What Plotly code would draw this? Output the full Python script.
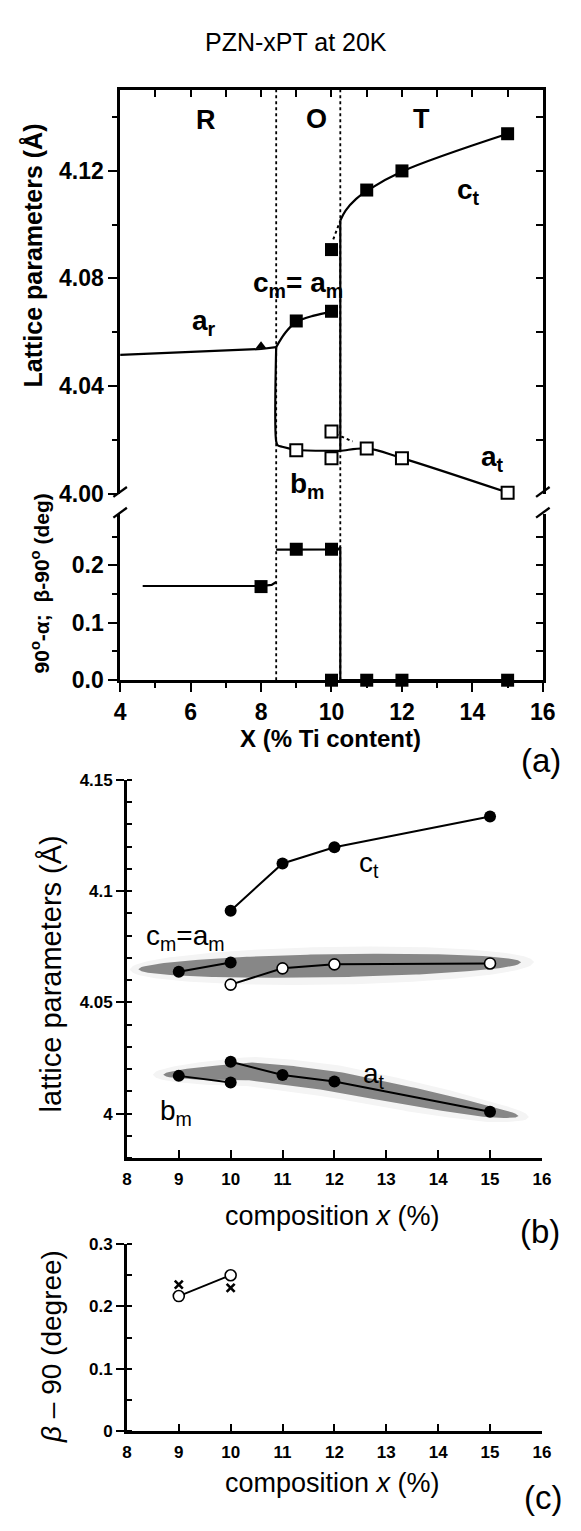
import numpy as np
import plotly.graph_objects as go

W, H = 581, 1531
def px(x): return x / W
def py(y): return 1 - y / H

# ---------------- Panel (a) upper: lattice parameters ----------------
tri_x = [8.0]
tri_y = [4.0548]
cm_x = [9, 10]
cm_y = [4.0642, 4.0678]
ct_x = [10, 11, 12, 15]
ct_y = [4.0907, 4.1128, 4.1199, 4.1337]
bmat_x = [9, 10, 10, 11, 12, 15]
bmat_y = [4.0162, 4.0132, 4.0232, 4.0169, 4.0132, 4.0004]
# guide curves
fit_ar_x = [4.0, 8.0, 8.43]
fit_ar_y = [4.0516, 4.0538, 4.0545]
fit_cm_x = [8.43, 8.7, 9.0, 9.5, 10.0]
fit_cm_y = [4.0545, 4.0600, 4.0638, 4.0662, 4.0676]
fit_low_x = [8.43, 8.43, 8.47, 8.6, 9, 10, 10.25, 11, 12, 15]
fit_low_y = [4.0545, 4.0195, 4.0181, 4.0175, 4.0164, 4.0160, 4.0160, 4.0169, 4.0133, 4.0005]
fit_jump_x = [10.25, 10.25]
fit_jump_y = [4.0160, 4.1015]
fit_ct_x = [10.25, 10.4, 10.7, 11, 12, 15]
fit_ct_y = [4.1015, 4.1052, 4.1095, 4.1125, 4.1197, 4.1337]
dot1_x = [10.05, 10.25]
dot1_y = [4.0945, 4.1015]
dot2_x = [10.12, 10.6]
dot2_y = [4.0222, 4.0195]

# ---------------- Panel (a) lower: angles ----------------
ang_x = [8, 9, 10, 10, 11, 12, 15]
ang_y = [0.163, 0.228, 0.228, 0.0, 0.0, 0.0, 0.0]
fit_r_x = [4.64, 8.0, 8.3, 8.43]
fit_r_y = [0.164, 0.164, 0.166, 0.171]
fit_m_x = [8.43, 9, 10, 10.2, 10.25, 10.25, 15]
fit_m_y = [0.2275, 0.2276, 0.2276, 0.2278, 0.232, 0.0, 0.0]
phase_bounds = [8.43, 10.25]

# ---------------- Panel (b) ----------------
b_ct_x = [10, 11, 12, 15]
b_ct_y = [4.0912, 4.1124, 4.1197, 4.1335]
b_cm_x = [9, 10]
b_cm_y = [4.0638, 4.0679]
b_open_x = [10, 11, 12, 15]
b_open_y = [4.0580, 4.0653, 4.0671, 4.0675]
b_at_x = [10, 11, 12, 15]
b_at_y = [4.0233, 4.0174, 4.0145, 4.0009]
b_bm_x = [9, 10]
b_bm_y = [4.0170, 4.0140]

# ---------------- Panel (c) ----------------
c_circ_x = [9, 10]
c_circ_y = [0.2166, 0.2500]
c_x_x = [9, 10]
c_x_y = [0.2350, 0.2297]

FONT = "Liberation Sans, Arial, sans-serif"
BLACK = "black"

fig = go.Figure()

def line(x, y, xa, ya, dash="solid", width=2.2, shape="linear"):
    fig.add_trace(go.Scatter(x=x, y=y, xaxis=xa, yaxis=ya, mode="lines",
                             line=dict(color=BLACK, width=width, dash=dash, shape=shape),
                             showlegend=False, hoverinfo="skip", cliponaxis=False))

def marks(x, y, xa, ya, symbol, size, fill=BLACK, lw=0):
    fig.add_trace(go.Scatter(x=x, y=y, xaxis=xa, yaxis=ya, mode="markers",
                             marker=dict(symbol=symbol, size=size, color=fill,
                                         line=dict(color=BLACK, width=lw)),
                             showlegend=False, hoverinfo="skip", cliponaxis=False))

# panel (a) upper
line(fit_ar_x, fit_ar_y, "x", "y")
line(fit_cm_x, fit_cm_y, "x", "y", shape="spline")
line(fit_low_x, fit_low_y, "x", "y", shape="spline")
line(fit_jump_x, fit_jump_y, "x", "y")
line(fit_ct_x, fit_ct_y, "x", "y", shape="spline")
line(dot1_x, dot1_y, "x", "y", dash="dot", width=2)
line(dot2_x, dot2_y, "x", "y", dash="dot", width=2)
marks(tri_x, tri_y, "x", "y", "triangle-up", 10)
marks(cm_x, cm_y, "x", "y", "square", 13)
marks(ct_x, ct_y, "x", "y", "square", 13)
marks(bmat_x, bmat_y, "x", "y", "square", 12, fill="white", lw=2)
# dummy traces to realise mirror axes
fig.add_trace(go.Scatter(x=[None], y=[None], xaxis="x2", yaxis="y", showlegend=False))
fig.add_trace(go.Scatter(x=[None], y=[None], xaxis="x", yaxis="y2", showlegend=False))

# panel (a) lower
line(fit_r_x, fit_r_y, "x3", "y3")
line(fit_m_x, fit_m_y, "x3", "y3")
marks(ang_x, ang_y, "x3", "y3", "square", 13)
fig.add_trace(go.Scatter(x=[None], y=[None], xaxis="x3", yaxis="y4", showlegend=False))

# panel (b) highlight bands
t = np.linspace(-1, 1, 121)
def band(xl, xr, yl, yr, h, center=None):
    xs = (xl + xr) / 2 + (xr - xl) / 2 * t
    if center is None:
        yc = yl + (yr - yl) * (xs - xl) / (xr - xl)
    else:
        yc = np.interp(xs, center[0], center[1])
    hh = h * np.sqrt(np.clip(1 - t ** 2, 0, 1))
    bx = np.concatenate([xs, xs[::-1]])
    by = np.concatenate([yc + hh, (yc - hh)[::-1]])
    return bx, by

for (bx, by), col in [
    (band(8.05, 15.85, 4.0648, 4.0681, 0.0085), "#f4f4f4"),
    (band(8.22, 15.6, 4.0649, 4.0680, 0.0052), "#878787"),
    (band(8.5, 15.75, 0, 0, 0.0075,
          center=([8.5, 9.5, 10.4, 11, 12, 15, 15.75], [4.0175, 4.0182, 4.0190, 4.0176, 4.0146, 4.0008, 3.9985])), "#f4f4f4"),
    (band(8.7, 15.55, 0, 0, 0.0046,
          center=([8.7, 9.5, 10.4, 11, 12, 15, 15.55], [4.0175, 4.0182, 4.0190, 4.0176, 4.0146, 4.0008, 3.9990])), "#878787"),
]:
    fig.add_trace(go.Scatter(x=bx, y=by, xaxis="x5", yaxis="y5", mode="lines", fill="toself",
                             fillcolor=col, line=dict(width=0, color=col), showlegend=False,
                             hoverinfo="skip"))

line(b_ct_x, b_ct_y, "x5", "y5", width=2)
line(b_cm_x, b_cm_y, "x5", "y5", width=2)
line(b_open_x, b_open_y, "x5", "y5", width=2)
line(b_at_x, b_at_y, "x5", "y5", width=2)
line(b_bm_x, b_bm_y, "x5", "y5", width=2)
marks(b_ct_x, b_ct_y, "x5", "y5", "circle", 12)
marks(b_cm_x, b_cm_y, "x5", "y5", "circle", 12)
marks(b_open_x, b_open_y, "x5", "y5", "circle", 11, fill="white", lw=1.6)
marks(b_at_x, b_at_y, "x5", "y5", "circle", 12)
marks(b_bm_x, b_bm_y, "x5", "y5", "circle", 12)

# panel (c)
line(c_circ_x, c_circ_y, "x6", "y6", width=1.8)
marks(c_circ_x, c_circ_y, "x6", "y6", "circle", 11, fill="white", lw=1.6)
fig.add_trace(go.Scatter(x=c_x_x, y=c_x_y, xaxis="x6", yaxis="y6", mode="markers",
                         marker=dict(symbol="x-thin", size=8, line=dict(color=BLACK, width=2.6)),
                         showlegend=False, hoverinfo="skip", cliponaxis=False))

# ---------------- axes ----------------
boldA = dict(family=FONT, size=23, color=BLACK, weight="bold")
boldB = dict(family=FONT, size=17, color=BLACK, weight="bold")
base = dict(showgrid=False, zeroline=False, linecolor=BLACK, linewidth=2.5,
            tickcolor=BLACK, tickwidth=2.3)

xa_dom = [px(118), px(555)]
yA1 = [py(492), py(82)]
yA2 = [py(681), py(512)]
xb_dom = [px(125), px(554)]
yB = [py(1166), py(782)]
yC = [py(1443), py(1253)]

fig.update_layout(
    width=W, height=H, margin=dict(l=0, r=0, t=0, b=0),
    paper_bgcolor="white", plot_bgcolor="rgba(0,0,0,0)",
    xaxis=dict(domain=xa_dom, range=[4, 16], anchor="y", visible=False),
    xaxis2=dict(**base, overlaying="x", anchor="y", side="top", range=[4, 16], showline=True,
                ticks="inside", tick0=4, dtick=1, ticklen=7, showticklabels=False),
    yaxis=dict(**base, domain=yA1, anchor="x", range=[4.0, 4.15], showline=True,
               ticks="outside", tick0=4.0, dtick=0.04, tickformat=".2f", ticklen=9,
               tickfont=boldA,
               minor=dict(tick0=4.0, dtick=0.02, ticks="outside", ticklen=5,
                          tickcolor=BLACK, tickwidth=2.3)),
    yaxis2=dict(**base, overlaying="y", anchor="x", side="right", range=[4.0, 4.15],
                showline=True, ticks="inside", tick0=4.0, dtick=0.02, ticklen=7,
                showticklabels=False),
    xaxis3=dict(**base, domain=xa_dom, anchor="y3", range=[4, 16], showline=True,
                ticks="outside", tick0=4, dtick=2, ticklen=9, tickfont=boldA,
                minor=dict(tick0=4, dtick=1, ticks="outside", ticklen=5,
                           tickcolor=BLACK, tickwidth=2.3)),
    yaxis3=dict(**base, domain=yA2, anchor="x3", range=[0, 0.29], showline=True,
                ticks="outside", tick0=0, dtick=0.1, tickformat=".1f", ticklen=9,
                tickfont=boldA,
                minor=dict(tick0=0, dtick=0.05, ticks="outside", ticklen=5,
                           tickcolor=BLACK, tickwidth=2.3)),
    yaxis4=dict(**base, overlaying="y3", anchor="x3", side="right", range=[0, 0.29],
                showline=True, ticks="inside", tick0=0, dtick=0.05, ticklen=7,
                showticklabels=False),
    xaxis5=dict(**base, domain=xb_dom, anchor="y5", range=[8, 16], showline=True,
                ticks="inside", tick0=8, dtick=1, ticklen=8, tickfont=boldB,
                ticklabelstandoff=4),
    yaxis5=dict(**base, domain=yB, anchor="x5", range=[3.98, 4.15], showline=True,
                ticks="outside", tickvals=[4, 4.05, 4.1, 4.15],
                ticktext=["4", "4.05", "4.1", "4.15"], ticklen=8, tickfont=boldB,
                minor=dict(tick0=3.98, dtick=0.01, ticks="inside", ticklen=5,
                           tickcolor=BLACK, tickwidth=2.3)),
    xaxis6=dict(**base, domain=xb_dom, anchor="y6", range=[8, 16], showline=True,
                ticks="inside", tick0=8, dtick=1, ticklen=8, tickfont=boldB,
                ticklabelstandoff=4),
    yaxis6=dict(**base, domain=yC, anchor="x6", range=[0, 0.3], showline=True,
                ticks="outside", tickvals=[0, 0.1, 0.2, 0.3],
                ticktext=["0", "0.1", "0.2", "0.3"], ticklen=8, tickfont=boldB,
                minor=dict(tick0=0, dtick=0.05, ticks="inside", ticklen=5,
                           tickcolor=BLACK, tickwidth=2.3)),
)

# phase boundaries (dotted)
for xb in phase_bounds:
    fig.add_shape(type="line", xref="x3", yref="paper", x0=xb, x1=xb,
                  y0=py(681), y1=py(82), line=dict(color=BLACK, width=1.8, dash="dot"))

# axis breaks
for xx in (118, 555):
    for yy in (490, 511):
        fig.add_shape(type="line", xref="paper", yref="paper",
                      x0=px(xx - 7), y0=py(yy + 5), x1=px(xx + 7), y1=py(yy - 5),
                      line=dict(color=BLACK, width=2.3))

def ann(text, x, y, size, bold=False, angle=0, xanchor="center"):
    f = dict(family=FONT, size=size, color=BLACK)
    if bold:
        f["weight"] = "bold"
    fig.add_annotation(text=text, x=px(x), y=py(y), xref="paper", yref="paper",
                       showarrow=False, font=f, textangle=angle, xanchor=xanchor,
                       yanchor="middle")

ann("PZN-xPT at 20K", 300, 33, 25)
ann("R", 207, 113, 27, bold=True)
ann("O", 321, 112, 27, bold=True)
ann("T", 430, 112, 27, bold=True)
ann("c<sub>m</sub>= a<sub>m</sub>", 302, 280, 28, bold=True)
ann("a<sub>r</sub>", 205, 318, 28, bold=True)
ann("c<sub>t</sub>", 478, 185, 28, bold=True)
ann("a<sub>t</sub>", 503, 456, 28, bold=True)
ann("b<sub>m</sub>", 312, 483, 28, bold=True)
ann("Lattice parameters (Å)", 28, 250, 25, bold=True, angle=-90)
ann("90<sup>o</sup>-α;  β-90<sup>o</sup> (deg)", 35, 583, 21, bold=True, angle=-90)
ann("X (% Ti content)", 335, 740, 24, bold=True)
ann("(a)", 553, 762, 33)

ann("c<sub>t</sub>", 375, 868, 28)
ann("c<sub>m</sub>=a<sub>m</sub>", 186, 942, 28)
ann("a<sub>t</sub>", 380, 1082, 28)
ann("b<sub>m</sub>", 176, 1120, 28)
ann("lattice parameters (Å)", 46, 979, 29, angle=-90)
ann("composition <i>x</i> (%)", 338, 1225, 27)
ann("(b)", 552, 1240, 33)

ann("<i>β</i> – 90 (degree)", 47, 1357, 28, angle=-90)
ann("composition <i>x</i> (%)", 338, 1495, 27)
ann("(c)", 555, 1510, 33)

fig.write_html("out.html")
